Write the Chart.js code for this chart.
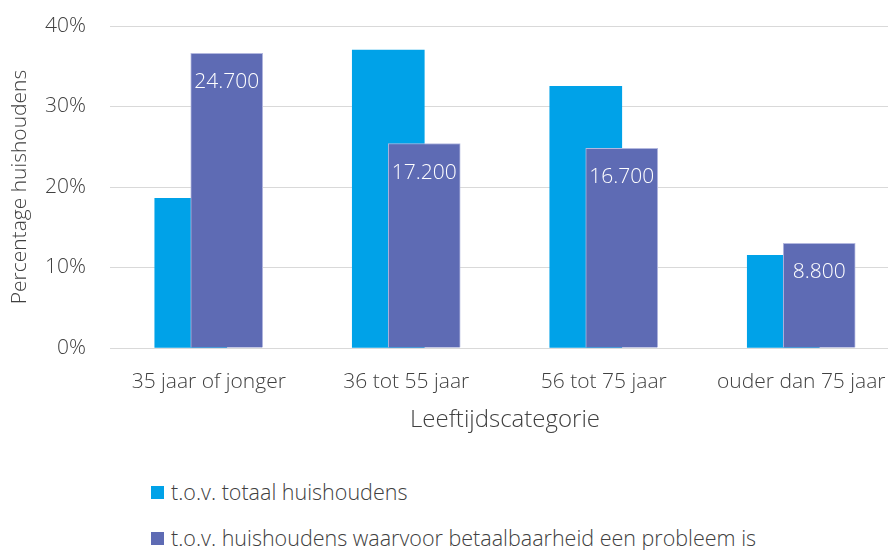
<!DOCTYPE html>
<html>
<head>
<meta charset="utf-8">
<script src="https://cdn.jsdelivr.net/npm/chart.js@4"></script>
<style>
  html, body { margin: 0; padding: 0; background: #fff; }
  #wrap { position: relative; width: 888px; height: 550px; overflow: hidden; }
  #holder { position: absolute; left: 0; top: 0; width: 904px; height: 450px; }
  .legend { position: absolute; left: 151px; display: flex; align-items: center; height: 28px; line-height: 28px;
            font-family: "Open Sans", sans-serif; font-weight: 300; font-size: 21.5px; color: #404040; white-space: nowrap; }
  .legend span.box { display: inline-block; width: 13px; height: 13px; margin-right: 7px; }
</style>
</head>
<body>
<div id="wrap">
  <div id="holder"><canvas id="chart"></canvas></div>
  <div class="legend" style="top: 478px;"><span class="box" style="background:#00a2e8"></span>t.o.v. totaal huishoudens</div>
  <div class="legend" style="top: 524px;"><span class="box" style="background:#5e6bb4"></span>t.o.v. huishoudens waarvoor betaalbaarheid een probleem is</div>
</div>
<script>
  var categories = ["35 jaar of jonger", "36 tot 55 jaar", "56 tot 75 jaar", "ouder dan 75 jaar"];
  var totaalValues = [18.6, 37.0, 32.5, 11.5];
  var probleemValues = [36.6, 25.4, 24.8, 13.0];
  var probleemLabels = ["24.700", "17.200", "16.700", "8.800"];
  var yTicks = [0, 10, 20, 30, 40];

  var fontFamily = "'Open Sans', sans-serif";
  var textColor = "#404040";
  var shift = 0.091;

  // white count labels near the top of the purple bars
  var barLabels = {
    id: "barLabels",
    afterDatasetsDraw: function(chart) {
      var ctx = chart.ctx;
      var meta = chart.getDatasetMeta(1);
      ctx.save();
      ctx.font = "300 21px " + fontFamily;
      ctx.fillStyle = "#ffffff";
      ctx.textAlign = "center";
      ctx.textBaseline = "middle";
      meta.data.forEach(function(bar, i) {
        ctx.fillText(probleemLabels[i], bar.x, bar.y + 29);
      });
      ctx.restore();
    }
  };

  new Chart(document.getElementById("chart"), {
    type: "bar",
    data: {
      datasets: [
        {
          label: "t.o.v. totaal huishoudens",
          data: totaalValues.map(function(v, i) { return { x: i - shift, y: v }; }),
          backgroundColor: "#00a2e8",
          barThickness: 72,
          grouped: false,
          order: 1
        },
        {
          label: "t.o.v. huishoudens waarvoor betaalbaarheid een probleem is",
          data: probleemValues.map(function(v, i) { return { x: i + shift, y: v }; }),
          backgroundColor: "#5e6bb4",
          borderColor: "#b3b8df",
          borderWidth: 1,
          barThickness: 72,
          grouped: false,
          order: 0
        }
      ]
    },
    options: {
      responsive: true,
      maintainAspectRatio: false,
      animation: false,
      layout: { padding: { left: 0, right: 4, top: 26, bottom: 0 } },
      plugins: {
        legend: { display: false },
        tooltip: { enabled: false }
      },
      scales: {
        x: {
          type: "linear",
          offset: false,
          min: -0.5,
          max: 3.5,
          afterBuildTicks: function(scale) {
            scale.ticks = categories.map(function(c, i) { return { value: i }; });
          },
          afterFit: function(scale) {
            scale.height = 102;
            scale.paddingLeft = 0;
            scale.paddingRight = 0;
          },
          ticks: {
            autoSkip: false,
            maxRotation: 0,
            padding: 21,
            color: textColor,
            font: { family: fontFamily, size: 21, weight: 300 },
            callback: function(v) { return categories[v]; }
          },
          grid: { display: false, drawTicks: false },
          border: { display: true, color: "#d9d9d9", width: 1 },
          title: {
            display: true,
            text: "Leeftijdscategorie",
            color: textColor,
            padding: { top: 0, bottom: 15 },
            font: { family: fontFamily, size: 24, weight: 300 }
          }
        },
        y: {
          min: 0,
          max: 40,
          afterBuildTicks: function(scale) {
            scale.ticks = yTicks.map(function(v) { return { value: v }; });
          },
          afterFit: function(scale) {
            scale.width = 110;
            scale.paddingTop = 0;
            scale.paddingBottom = 0;
          },
          ticks: {
            padding: 24,
            color: textColor,
            font: { family: fontFamily, size: 21, weight: 300 },
            callback: function(v) { return v + "%"; }
          },
          grid: { color: "#d9d9d9", lineWidth: 1, drawTicks: false },
          border: { display: false },
          title: {
            display: true,
            text: "Percentage huishoudens",
            color: textColor,
            padding: { top: 7, bottom: 0 },
            font: { family: fontFamily, size: 21, weight: 300 }
          }
        }
      }
    },
    plugins: [barLabels]
  });
</script>
</body>
</html>
